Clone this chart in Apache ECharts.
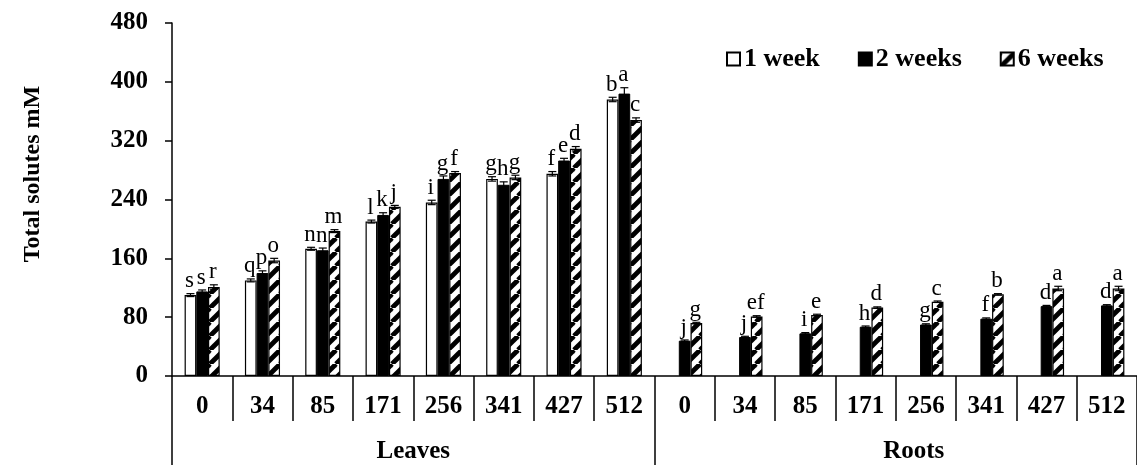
<!DOCTYPE html>
<html>
<head>
<meta charset="utf-8">
<script src="https://cdn.jsdelivr.net/npm/echarts@6/dist/echarts.min.js"></script>
<style>
  html, body { margin: 0; padding: 0; background: #fff; }
  #chart { width: 1137px; height: 465px; }
</style>
</head>
<body>
<div id="chart"></div>
<script>
// 盐浓度（mM）类别，叶和根各一组
const doses = ["0", "34", "85", "171", "256", "341", "427", "512"];
const categories = doses.concat(doses);
const groups = ["Leaves", "Roots"];
const seriesNames = ["1 week", "2 weeks", "6 weeks"];

const week1 = [110, 130, 173, 210, 236, 268, 275, 376, null, null, null, null, null, null, null, null];
const week2 = [115, 140, 171, 219, 268, 260, 293, 384, 48, 53, 58, 67, 70, 78, 95, 96];
const week6 = [121, 157, 197, 230, 276, 270, 309, 348, 72, 81, 83, 93, 101, 111, 119, 119];

const err1 = [2, 2, 2, 2, 3, 3, 3, 3, null, null, null, null, null, null, null, null];
const err2 = [2, 3, 3, 3, 4, 4, 3, 8, 1, 1, 1, 1, 1, 1, 1, 1];
const err6 = [3, 3, 2, 2, 2, 3, 3, 3, 1, 1, 1, 1, 1, 1, 3, 3];

const letters1 = ["s", "q", "n", "l", "i", "g", "f", "b", "", "", "", "", "", "", "", ""];
const letters2 = ["s", "p", "n", "k", "g", "h", "e", "a", "j", "j", "i", "h", "g", "f", "d", "d"];
const letters6 = ["r", "o", "m", "j", "f", "g", "d", "c", "g", "ef", "e", "d", "c", "b", "a", "a"];

const yTicks = [0, 80, 160, 240, 320, 400, 480];

const BAR_W = 11.7;
const SERIF = "'Liberation Serif', 'Times New Roman', serif";

// 斜线填充
function makeHatch() {
  const T = 14;
  const c = document.createElement("canvas");
  c.width = T;
  c.height = T;
  const ctx = c.getContext("2d");
  ctx.fillStyle = "#fff";
  ctx.fillRect(0, 0, T, T);
  ctx.strokeStyle = "#000";
  ctx.lineWidth = 4.8;
  for (let k = -1; k <= 1; k++) {
    ctx.beginPath();
    ctx.moveTo(k * T, T);
    ctx.lineTo(k * T + T, 0);
    ctx.stroke();
  }
  return c;
}
const hatch = makeHatch();

// 误差线 + 显著性字母
function errSeries(name, idx, vals, errs, lets) {
  const data = vals.map((v, i) => [i, v, errs[i], lets[i]]);
  return {
    name: name,
    type: "custom",
    xAxisIndex: 0,
    z: 5,
    silent: true,
    data: data,
    renderItem: function (params, api) {
      const v = api.value(1);
      if (v === null || isNaN(v)) return null;
      const e = api.value(2);
      const i = api.value(0);
      const lt = data[params.dataIndex][3];
      const dx = (idx - 1) * BAR_W;
      const top = api.coord([i, v + e]);
      const bot = api.coord([i, v - e]);
      const x = top[0] + dx;
      const ls = { stroke: "#000", lineWidth: 1.2 };
      return {
        type: "group",
        children: [
          { type: "line", shape: { x1: x, y1: top[1], x2: x, y2: bot[1] }, style: ls },
          { type: "line", shape: { x1: x - 4, y1: top[1], x2: x + 4, y2: top[1] }, style: ls },
          { type: "line", shape: { x1: x - 4, y1: bot[1], x2: x + 4, y2: bot[1] }, style: ls },
          {
            type: "text",
            x: x - 1,
            y: top[1] - 1,
            style: {
              text: lt,
              fill: "#000",
              font: "23px " + SERIF,
              align: "center",
              verticalAlign: "bottom",
            },
          },
        ],
      };
    },
  };
}

const chart = echarts.init(document.getElementById("chart"), null, { renderer: "canvas" });

const option = {
  animation: false,
  backgroundColor: "#fff",
  grid: { left: 172, top: 23, height: 353, width: 976, containLabel: false },
  legend: {
    data: seriesNames,
    icon: "rect",
    left: 721,
    top: 41,
    itemWidth: 13,
    itemHeight: 13,
    itemGap: 38,
    selectedMode: false,
    textStyle: { fontFamily: SERIF, fontWeight: "bold", fontSize: 26, color: "#000", padding: [0, 0, 0, -1] },
  },
  graphic: [
    {
      type: "text",
      x: 33,
      y: 174,
      rotation: Math.PI / 2,
      style: {
        text: "Total solutes mM",
        font: "bold 24px " + SERIF,
        fill: "#000",
        align: "center",
        verticalAlign: "middle",
      },
    },
  ],
  xAxis: [
    {
      type: "category",
      data: categories,
      position: "bottom",
      axisLine: { lineStyle: { color: "#000", width: 1.5 } },
      axisTick: { show: true, length: 45, lineStyle: { color: "#000", width: 1.5 } },
      axisLabel: { margin: 18, color: "#000", fontFamily: SERIF, fontWeight: "bold", fontSize: 25 },
    },
    {
      type: "category",
      data: groups,
      position: "bottom",
      offset: 0,
      axisLine: { show: false },
      axisTick: { show: true, length: 95, lineStyle: { color: "#000", width: 1.5 } },
      axisLabel: {
        margin: 63,
        color: "#000",
        fontFamily: SERIF,
        fontWeight: "bold",
        fontSize: 25,
        formatter: function (v, i) {
          return i === 1 ? "{r|" + v + "}" : v;
        },
        rich: {
          r: { fontFamily: SERIF, fontWeight: "bold", fontSize: 25, color: "#000", padding: [0, 0, 0, 36] },
        },
      },
    },
  ],
  yAxis: {
    type: "value",
    min: yTicks[0],
    max: yTicks[yTicks.length - 1],
    interval: 80,
    axisLine: { show: true, lineStyle: { color: "#000", width: 1.5 } },
    axisTick: { show: true, length: 7, lineStyle: { color: "#000", width: 1.5 } },
    splitLine: { show: false },
    axisLabel: { margin: 24, color: "#000", fontFamily: SERIF, fontWeight: "bold", fontSize: 25 },
  },
  series: [
    {
      name: seriesNames[0],
      type: "bar",
      xAxisIndex: 0,
      data: week1,
      barWidth: BAR_W,
      barGap: "0%",
      itemStyle: { color: "#fff", borderColor: "#000", borderWidth: 1.2 },
    },
    {
      name: seriesNames[1],
      type: "bar",
      xAxisIndex: 0,
      data: week2,
      barWidth: BAR_W,
      barGap: "0%",
      itemStyle: { color: "#000", borderColor: "#000", borderWidth: 1 },
    },
    {
      name: seriesNames[2],
      type: "bar",
      xAxisIndex: 0,
      data: week6,
      barWidth: BAR_W,
      barGap: "0%",
      itemStyle: { color: { image: hatch, repeat: "repeat" }, borderColor: "#000", borderWidth: 1.2 },
    },
    errSeries("err1", 0, week1, err1, letters1),
    errSeries("err2", 1, week2, err2, letters2),
    errSeries("err6", 2, week6, err6, letters6),
  ],
};

chart.setOption(option);
</script>
</body>
</html>
